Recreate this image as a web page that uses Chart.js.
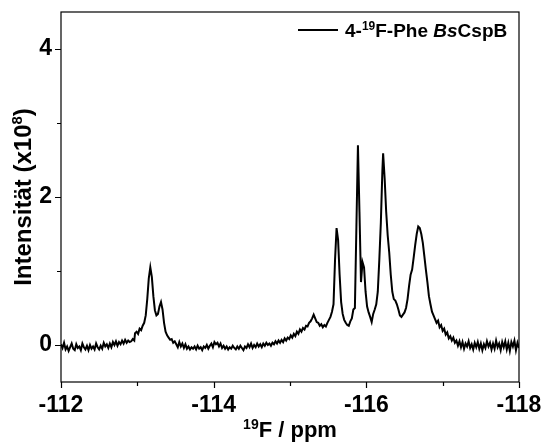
<!DOCTYPE html>
<html>
<head>
<meta charset="utf-8">
<script src="https://cdn.jsdelivr.net/npm/chart.js@4.4.1/dist/chart.umd.min.js"></script>
<style>
  html, body { margin: 0; padding: 0; background: #fff; }
  #wrap { width: 544px; height: 445px; }
</style>
</head>
<body>
<div id="wrap"><canvas id="nmr" width="544" height="445"></canvas></div>
<script>
// 19F NMR spectrum
var ppm = [
  -112.00, -112.02, -112.04, -112.06, -112.08, -112.10, -112.12, -112.14, -112.16, -112.18,
  -112.20, -112.22, -112.24, -112.26, -112.28, -112.30, -112.32, -112.34, -112.36, -112.38,
  -112.40, -112.42, -112.44, -112.46, -112.48, -112.50, -112.52, -112.54, -112.56, -112.58,
  -112.60, -112.62, -112.64, -112.66, -112.68, -112.70, -112.72, -112.74, -112.76, -112.78,
  -112.80, -112.82, -112.84, -112.86, -112.88, -112.90, -112.92, -112.94, -112.96, -112.97,
  -112.99, -113.01, -113.03, -113.05, -113.07, -113.09, -113.11, -113.13, -113.15, -113.17,
  -113.19, -113.21, -113.23, -113.25, -113.27, -113.29, -113.31, -113.33, -113.35, -113.37,
  -113.39, -113.41, -113.43, -113.45, -113.47, -113.49, -113.51, -113.53, -113.55, -113.57,
  -113.59, -113.61, -113.63, -113.65, -113.67, -113.69, -113.71, -113.73, -113.75, -113.77,
  -113.79, -113.81, -113.83, -113.85, -113.87, -113.89, -113.91, -113.93, -113.95, -113.97,
  -113.99, -114.01, -114.03, -114.05, -114.07, -114.09, -114.11, -114.13, -114.15, -114.17,
  -114.19, -114.21, -114.23, -114.25, -114.27, -114.29, -114.31, -114.33, -114.35, -114.37,
  -114.39, -114.41, -114.43, -114.45, -114.47, -114.49, -114.51, -114.53, -114.55, -114.57,
  -114.59, -114.61, -114.63, -114.65, -114.67, -114.69, -114.71, -114.73, -114.75, -114.77,
  -114.79, -114.81, -114.83, -114.85, -114.87, -114.89, -114.91, -114.93, -114.95, -114.97,
  -114.99, -115.01, -115.03, -115.05, -115.07, -115.09, -115.11, -115.13, -115.15, -115.17,
  -115.19, -115.21, -115.23, -115.25, -115.27, -115.29, -115.31, -115.33, -115.35, -115.37,
  -115.39, -115.41, -115.43, -115.45, -115.47, -115.49, -115.51, -115.53, -115.55, -115.57,
  -115.59, -115.61, -115.63, -115.65, -115.67, -115.69, -115.71, -115.73, -115.75, -115.77,
  -115.79, -115.81, -115.83, -115.85, -115.87, -115.89, -115.91, -115.93, -115.95, -115.97,
  -115.99, -116.01, -116.03, -116.05, -116.07, -116.09, -116.11, -116.13, -116.15, -116.17,
  -116.19, -116.21, -116.22, -116.24, -116.26, -116.28, -116.30, -116.32, -116.34, -116.36,
  -116.38, -116.40, -116.42, -116.44, -116.46, -116.48, -116.50, -116.52, -116.54, -116.56,
  -116.58, -116.60, -116.62, -116.64, -116.66, -116.68, -116.70, -116.72, -116.74, -116.76,
  -116.78, -116.80, -116.82, -116.84, -116.86, -116.88, -116.90, -116.92, -116.94, -116.96,
  -116.98, -117.00, -117.02, -117.04, -117.06, -117.08, -117.10, -117.12, -117.14, -117.16,
  -117.18, -117.20, -117.22, -117.24, -117.26, -117.28, -117.30, -117.32, -117.34, -117.36,
  -117.38, -117.40, -117.42, -117.44, -117.46, -117.48, -117.50, -117.52, -117.54, -117.56,
  -117.58, -117.60, -117.62, -117.64, -117.66, -117.68, -117.70, -117.72, -117.74, -117.76,
  -117.78, -117.80, -117.82, -117.84, -117.86, -117.88, -117.90, -117.92, -117.94, -117.96,
  -117.98, -118.00
];
// intensity in units of 10^8
var intensity = [
   0.01, -0.04,  0.03, -0.06, -0.02, -0.08, -0.03,  0.02, -0.05, -0.07,
   0.01, -0.04, -0.02, -0.07,  0.02, -0.03, -0.06, -0.01, -0.07,  0.00,
  -0.05, -0.02, -0.06,  0.02, -0.03, -0.06, -0.01, -0.05,  0.03, -0.02,
   0.01, -0.04,  0.02, -0.03,  0.04,  0.00,  0.05, -0.01,  0.04,  0.01,
   0.06,  0.02,  0.07,  0.03,  0.06,  0.04,  0.05,  0.08,  0.06,  0.16,
   0.18,  0.15,  0.22,  0.20,  0.26,  0.30,  0.40,  0.62,  0.90,  1.05,
   0.92,  0.66,  0.47,  0.40,  0.42,  0.52,  0.58,  0.48,  0.30,  0.18,
   0.13,  0.10,  0.07,  0.08,  0.03,  0.05,  0.01, -0.03,  0.04, -0.02,
   0.02, -0.04,  0.01, -0.05, -0.02, -0.06, -0.03, -0.05, -0.02, -0.06,
  -0.01, -0.05, -0.03, -0.07, -0.02, -0.04,  0.00, -0.05, -0.01,  0.02,
  -0.03,  0.04,  0.01,  0.03, -0.02,  0.02, -0.04, -0.01, -0.05, -0.02,
  -0.06, -0.03, -0.05, -0.01, -0.04, -0.06, -0.02, -0.05, -0.01, -0.04,
  -0.07, -0.02, -0.04,  0.01, -0.03,  0.02, -0.04,  0.00, -0.03,  0.02,
  -0.02,  0.01, -0.03,  0.02, -0.01,  0.03,  0.00,  0.02, -0.01,  0.03,
   0.01,  0.05,  0.02,  0.06,  0.03,  0.07,  0.04,  0.09,  0.06,  0.10,
   0.08,  0.13,  0.10,  0.15,  0.12,  0.18,  0.15,  0.21,  0.18,  0.23,
   0.21,  0.26,  0.25,  0.30,  0.32,  0.36,  0.41,  0.36,  0.31,  0.30,
   0.26,  0.28,  0.24,  0.27,  0.25,  0.30,  0.34,  0.38,  0.45,  0.55,
   1.15,  1.58,  1.42,  0.95,  0.58,  0.42,  0.34,  0.30,  0.27,  0.26,
   0.32,  0.36,  0.48,  0.50,  1.60,  2.70,  1.80,  0.85,  1.12,  1.05,
   0.72,  0.52,  0.44,  0.38,  0.31,  0.42,  0.48,  0.55,  0.72,  1.15,
   1.65,  2.35,  2.59,  2.25,  1.80,  1.48,  1.25,  0.95,  0.72,  0.62,
   0.60,  0.55,  0.48,  0.40,  0.38,  0.41,  0.44,  0.50,  0.62,  0.80,
   0.95,  1.02,  1.18,  1.35,  1.50,  1.60,  1.58,  1.50,  1.38,  1.20,
   1.02,  0.85,  0.66,  0.55,  0.45,  0.40,  0.35,  0.30,  0.33,  0.24,
   0.27,  0.19,  0.22,  0.14,  0.17,  0.09,  0.12,  0.06,  0.10,  0.03,
   0.06, -0.01,  0.05, -0.03,  0.04, -0.05,  0.02, -0.02,  0.05, -0.04,
   0.01, -0.06,  0.03, -0.03,  0.04, -0.05,  0.02, -0.07,  0.01, -0.04,
   0.05, -0.02,  0.03, -0.06,  0.02, -0.05,  0.06, -0.03,  0.02, -0.07,
   0.04, -0.03,  0.05, -0.06,  0.03, -0.08,  0.04, -0.02,  0.06, -0.07,
   0.03, -0.04
];

var xMajor = [-112, -114, -116, -118];
var xMinor = [-113, -115, -117];
var yMajor = [0, 2, 4];
var yMinor = [1, 3];

var FONT = '"Liberation Sans", Arial, sans-serif';

var points = ppm.map(function(p, i) { return { x: p, y: intensity[i] }; });

// text made of pieces (normal + superscript / italic)
function richWidth(ctx, parts) {
  var w = 0;
  parts.forEach(function(p) { ctx.font = p.font; w += ctx.measureText(p.text).width; });
  return w;
}
function drawRich(ctx, parts, x, y) {
  parts.forEach(function(p) {
    ctx.font = p.font;
    ctx.fillText(p.text, x, y + (p.dy || 0));
    x += ctx.measureText(p.text).width;
  });
}

var framePlugin = {
  id: 'frame',
  afterDraw: function(chart) {
    var ctx = chart.ctx, a = chart.chartArea;
    var sx = chart.scales.x, sy = chart.scales.y;
    ctx.save();
    ctx.strokeStyle = '#000';
    ctx.lineWidth = 1.2;
    ctx.strokeRect(a.left, a.top, a.right - a.left, a.bottom - a.top);

    ctx.beginPath();
    xMajor.concat(xMinor).forEach(function(v) {
      var px = Math.round(sx.getPixelForValue(v)) + 0.5;
      var len = xMajor.indexOf(v) >= 0 ? 6 : 4;
      ctx.moveTo(px, a.bottom);
      ctx.lineTo(px, a.bottom + len);
    });
    yMajor.concat(yMinor).forEach(function(v) {
      var py = Math.round(sy.getPixelForValue(v)) + 0.5;
      var len = yMajor.indexOf(v) >= 0 ? 6 : 4;
      ctx.moveTo(a.left, py);
      ctx.lineTo(a.left - len, py);
    });
    ctx.stroke();

    ctx.fillStyle = '#000';
    ctx.textBaseline = 'alphabetic';
    ctx.textAlign = 'left';

    // x axis title
    var big = 'bold 22px ' + FONT, sup = 'bold 14px ' + FONT;
    var xt = [{ text: '19', font: sup, dy: -8 }, { text: 'F / ppm', font: big }];
    var cx = (a.left + a.right) / 2;
    drawRich(ctx, xt, cx - richWidth(ctx, xt) / 2, 437);

    // y axis title
    var ybig = 'bold 24px ' + FONT, ysup = 'bold 15px ' + FONT;
    var yt = [{ text: 'Intensit\u00e4t (x10', font: ybig }, { text: '8', font: ysup, dy: -9 }, { text: ')', font: ybig }];
    ctx.save();
    ctx.translate(31, (a.top + a.bottom) / 2);
    ctx.rotate(-Math.PI / 2);
    drawRich(ctx, yt, -richWidth(ctx, yt) / 2, 0);
    ctx.restore();

    // legend
    ctx.lineWidth = 2;
    ctx.beginPath();
    ctx.moveTo(298, 30);
    ctx.lineTo(338, 30);
    ctx.stroke();
    var lf = 'bold 19px ' + FONT, ls = 'bold 12px ' + FONT, li = 'italic bold 19px ' + FONT;
    drawRich(ctx, [
      { text: '4-', font: lf },
      { text: '19', font: ls, dy: -7 },
      { text: 'F-Phe ', font: lf },
      { text: 'Bs', font: li },
      { text: 'CspB', font: lf }
    ], 345, 37);
    ctx.restore();
  }
};

function noPad(s) { s.paddingTop = 0; s.paddingBottom = 0; s.paddingLeft = 0; s.paddingRight = 0; }

new Chart(document.getElementById('nmr'), {
  type: 'line',
  data: {
    datasets: [{
      label: '4-19F-Phe BsCspB',
      data: points,
      borderColor: '#000',
      borderWidth: 2,
      pointRadius: 0,
      tension: 0,
      fill: false
    }]
  },
  options: {
    responsive: false,
    animation: false,
    layout: { padding: { top: 12, right: 25, left: 0, bottom: 0 } },
    plugins: { legend: { display: false }, tooltip: { enabled: false } },
    scales: {
      x: {
        type: 'linear',
        min: -118,
        max: -112,
        reverse: true,
        afterBuildTicks: function(s) { s.ticks = xMajor.map(function(v) { return { value: v }; }); },
        afterFit: function(s) { s.height = 63; noPad(s); },
        grid: { display: false, drawTicks: false },
        border: { display: false },
        ticks: { color: '#000', font: { family: FONT, size: 23, weight: 'bold' }, padding: 10, maxRotation: 0 }
      },
      y: {
        min: -0.5,
        max: 4.5,
        afterBuildTicks: function(s) { s.ticks = yMajor.map(function(v) { return { value: v }; }); },
        afterFit: function(s) { s.width = 61; noPad(s); },
        grid: { display: false, drawTicks: false },
        border: { display: false },
        ticks: { color: '#000', font: { family: FONT, size: 23, weight: 'bold' }, padding: 9 }
      }
    }
  },
  plugins: [framePlugin]
});
</script>
</body>
</html>
